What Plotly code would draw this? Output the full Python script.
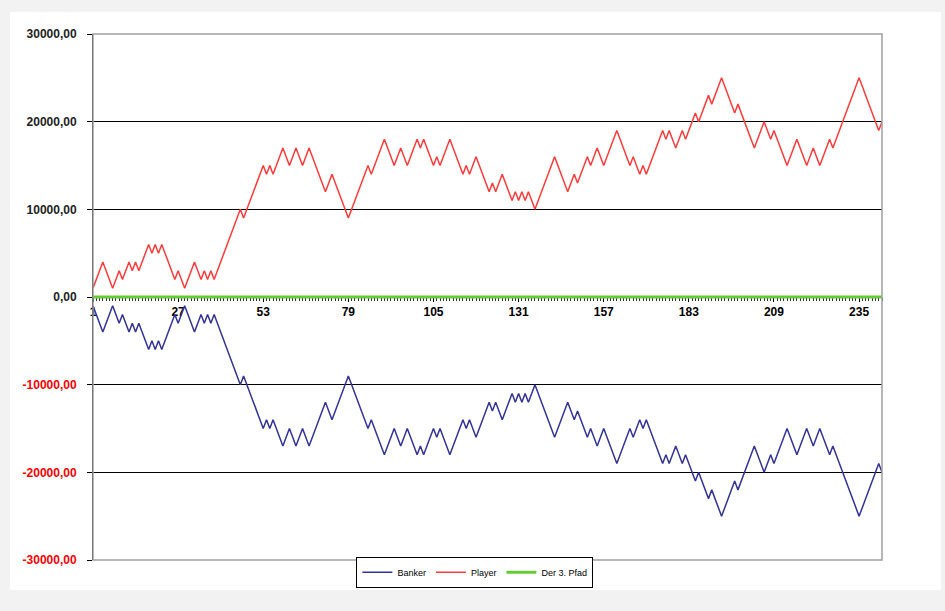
import plotly.graph_objects as go

# ---- data ----
categories = list(range(1, 243))

player = [
    1000, 2000, 3000, 4000, 3000, 2000, 1000, 2000, 3000, 2000,
    3000, 4000, 3000, 4000, 3000, 4000, 5000, 6000, 5000, 6000,
    5000, 6000, 5000, 4000, 3000, 2000, 3000, 2000, 1000, 2000,
    3000, 4000, 3000, 2000, 3000, 2000, 3000, 2000, 3000, 4000,
    5000, 6000, 7000, 8000, 9000, 10000, 9000, 10000, 11000, 12000,
    13000, 14000, 15000, 14000, 15000, 14000, 15000, 16000, 17000, 16000,
    15000, 16000, 17000, 16000, 15000, 16000, 17000, 16000, 15000, 14000,
    13000, 12000, 13000, 14000, 13000, 12000, 11000, 10000, 9000, 10000,
    11000, 12000, 13000, 14000, 15000, 14000, 15000, 16000, 17000, 18000,
    17000, 16000, 15000, 16000, 17000, 16000, 15000, 16000, 17000, 18000,
    17000, 18000, 17000, 16000, 15000, 16000, 15000, 16000, 17000, 18000,
    17000, 16000, 15000, 14000, 15000, 14000, 15000, 16000, 15000, 14000,
    13000, 12000, 13000, 12000, 13000, 14000, 13000, 12000, 11000, 12000,
    11000, 12000, 11000, 12000, 11000, 10000, 11000, 12000, 13000, 14000,
    15000, 16000, 15000, 14000, 13000, 12000, 13000, 14000, 13000, 14000,
    15000, 16000, 15000, 16000, 17000, 16000, 15000, 16000, 17000, 18000,
    19000, 18000, 17000, 16000, 15000, 16000, 15000, 14000, 15000, 14000,
    15000, 16000, 17000, 18000, 19000, 18000, 19000, 18000, 17000, 18000,
    19000, 18000, 19000, 20000, 21000, 20000, 21000, 22000, 23000, 22000,
    23000, 24000, 25000, 24000, 23000, 22000, 21000, 22000, 21000, 20000,
    19000, 18000, 17000, 18000, 19000, 20000, 19000, 18000, 19000, 18000,
    17000, 16000, 15000, 16000, 17000, 18000, 17000, 16000, 15000, 16000,
    17000, 16000, 15000, 16000, 17000, 18000, 17000, 18000, 19000, 20000,
    21000, 22000, 23000, 24000, 25000, 24000, 23000, 22000, 21000, 20000,
    19000, 20000,
]

banker = [
    -1000, -2000, -3000, -4000, -3000, -2000, -1000, -2000, -3000, -2000,
    -3000, -4000, -3000, -4000, -3000, -4000, -5000, -6000, -5000, -6000,
    -5000, -6000, -5000, -4000, -3000, -2000, -3000, -2000, -1000, -2000,
    -3000, -4000, -3000, -2000, -3000, -2000, -3000, -2000, -3000, -4000,
    -5000, -6000, -7000, -8000, -9000, -10000, -9000, -10000, -11000, -12000,
    -13000, -14000, -15000, -14000, -15000, -14000, -15000, -16000, -17000, -16000,
    -15000, -16000, -17000, -16000, -15000, -16000, -17000, -16000, -15000, -14000,
    -13000, -12000, -13000, -14000, -13000, -12000, -11000, -10000, -9000, -10000,
    -11000, -12000, -13000, -14000, -15000, -14000, -15000, -16000, -17000, -18000,
    -17000, -16000, -15000, -16000, -17000, -16000, -15000, -16000, -17000, -18000,
    -17000, -18000, -17000, -16000, -15000, -16000, -15000, -16000, -17000, -18000,
    -17000, -16000, -15000, -14000, -15000, -14000, -15000, -16000, -15000, -14000,
    -13000, -12000, -13000, -12000, -13000, -14000, -13000, -12000, -11000, -12000,
    -11000, -12000, -11000, -12000, -11000, -10000, -11000, -12000, -13000, -14000,
    -15000, -16000, -15000, -14000, -13000, -12000, -13000, -14000, -13000, -14000,
    -15000, -16000, -15000, -16000, -17000, -16000, -15000, -16000, -17000, -18000,
    -19000, -18000, -17000, -16000, -15000, -16000, -15000, -14000, -15000, -14000,
    -15000, -16000, -17000, -18000, -19000, -18000, -19000, -18000, -17000, -18000,
    -19000, -18000, -19000, -20000, -21000, -20000, -21000, -22000, -23000, -22000,
    -23000, -24000, -25000, -24000, -23000, -22000, -21000, -22000, -21000, -20000,
    -19000, -18000, -17000, -18000, -19000, -20000, -19000, -18000, -19000, -18000,
    -17000, -16000, -15000, -16000, -17000, -18000, -17000, -16000, -15000, -16000,
    -17000, -16000, -15000, -16000, -17000, -18000, -17000, -18000, -19000, -20000,
    -21000, -22000, -23000, -24000, -25000, -24000, -23000, -22000, -21000, -20000,
    -19000, -20000,
]

der3 = [
    0, 0, 0, 0, 0, 0, 0, 0, 0, 0, 0, 0, 0, 0, 0, 0, 0, 0, 0, 0,
    0, 0, 0, 0, 0, 0, 0, 0, 0, 0, 0, 0, 0, 0, 0, 0, 0, 0, 0, 0,
    0, 0, 0, 0, 0, 0, 0, 0, 0, 0, 0, 0, 0, 0, 0, 0, 0, 0, 0, 0,
    0, 0, 0, 0, 0, 0, 0, 0, 0, 0, 0, 0, 0, 0, 0, 0, 0, 0, 0, 0,
    0, 0, 0, 0, 0, 0, 0, 0, 0, 0, 0, 0, 0, 0, 0, 0, 0, 0, 0, 0,
    0, 0, 0, 0, 0, 0, 0, 0, 0, 0, 0, 0, 0, 0, 0, 0, 0, 0, 0, 0,
    0, 0, 0, 0, 0, 0, 0, 0, 0, 0, 0, 0, 0, 0, 0, 0, 0, 0, 0, 0,
    0, 0, 0, 0, 0, 0, 0, 0, 0, 0, 0, 0, 0, 0, 0, 0, 0, 0, 0, 0,
    0, 0, 0, 0, 0, 0, 0, 0, 0, 0, 0, 0, 0, 0, 0, 0, 0, 0, 0, 0,
    0, 0, 0, 0, 0, 0, 0, 0, 0, 0, 0, 0, 0, 0, 0, 0, 0, 0, 0, 0,
    0, 0, 0, 0, 0, 0, 0, 0, 0, 0, 0, 0, 0, 0, 0, 0, 0, 0, 0, 0,
    0, 0, 0, 0, 0, 0, 0, 0, 0, 0, 0, 0, 0, 0, 0, 0, 0, 0, 0, 0,
    0, 0,
]

x_tickvals = [1, 27, 53, 79, 105, 131, 157, 183, 209, 235]
x_ticktext = ["1", "27", "53", "79", "105", "131", "157", "183", "209", "235"]

y_tickvals = [-30000, -20000, -10000, 0, 10000, 20000, 30000]
y_ticktext = [
    "<span style='color:#FF0000'>-30000,00</span>",
    "<span style='color:#FF0000'>-20000,00</span>",
    "<span style='color:#FF0000'>-10000,00</span>",
    "0,00",
    "10000,00",
    "20000,00",
    "30000,00",
]

FONT = "Liberation Sans, Arial, sans-serif"

fig = go.Figure()
fig.add_trace(go.Scatter(x=categories, y=banker, mode="lines", name="Banker",
                         line=dict(color="#333399", width=1.5)))
fig.add_trace(go.Scatter(x=categories, y=player, mode="lines", name="Player",
                         line=dict(color="#FF3B3B", width=1.5)))
fig.add_trace(go.Scatter(x=categories, y=der3, mode="lines", name="Der 3. Pfad",
                         line=dict(color="#66CC33", width=3)))

# white chart area on light-grey page
fig.add_shape(type="rect", xref="paper", yref="paper",
              x0=-0.1052, x1=1.0748, y0=-0.057, y1=1.0418,
              fillcolor="white", line=dict(width=0), layer="below")
# plot area border
fig.add_shape(type="rect", xref="paper", yref="paper",
              x0=0, x1=1, y0=0, y1=1,
              line=dict(color="#a0a0a0", width=1.5), layer="above")

fig.update_layout(
    width=945, height=611,
    margin=dict(l=93, r=63, t=34, b=51),
    paper_bgcolor="#f2f2f2",
    plot_bgcolor="white",
    font=dict(family=FONT, color="#222222"),
    showlegend=True,
    legend=dict(
        orientation="h", x=0.484, xanchor="center", y=0.006, yanchor="top",
        bgcolor="white", bordercolor="black", borderwidth=1,
        font=dict(size=9, family=FONT, color="black"),
        itemwidth=30, tracegroupgap=0,
    ),
    xaxis=dict(
        range=[1, 242],
        anchor="free", position=0.5,
        tickmode="array", tickvals=x_tickvals, ticktext=x_ticktext,
        ticks="outside", ticklen=4, tickcolor="black",
        minor=dict(ticks="outside", dtick=1, tick0=1, ticklen=3, tickcolor="#333333"),
        showline=True, linecolor="black", linewidth=1,
        showgrid=False, zeroline=False,
        tickfont=dict(size=12, family=FONT, color="black", weight="bold"),
        layer="below traces",
    ),
    yaxis=dict(
        range=[-30000, 30000],
        tickmode="array", tickvals=y_tickvals, ticktext=y_ticktext,
        ticks="outside", ticklen=5, tickcolor="black",
        showline=True, linecolor="black", linewidth=1,
        showgrid=True, gridcolor="black", gridwidth=1,
        zeroline=False,
        tickfont=dict(size=12, family=FONT, color="#222222", weight="bold"),
        ticklabelstandoff=8,
        layer="below traces",
    ),
)

fig.write_html("out.html")
